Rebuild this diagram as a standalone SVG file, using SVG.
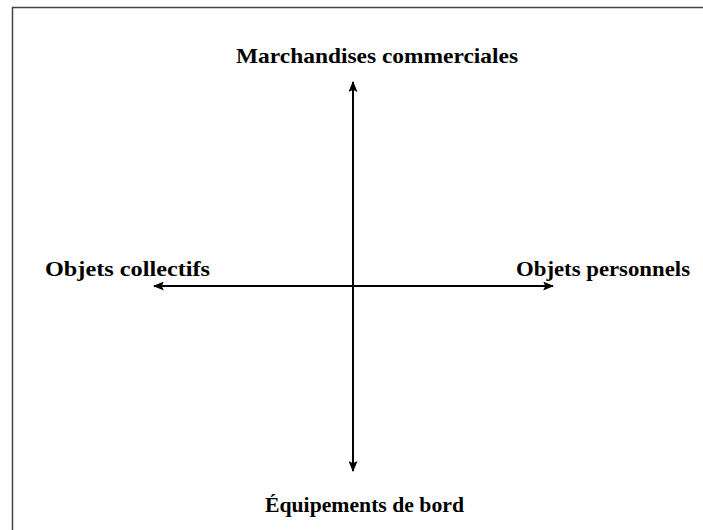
<svg xmlns="http://www.w3.org/2000/svg" width="703" height="530" viewBox="0 0 703 530">
<style>
text{font-family:"Liberation Serif","Times New Roman",serif;font-weight:bold;font-size:22px;fill:#000}
.ax{stroke:#000;stroke-width:2;fill:none}
</style>
<defs>
<marker id="ah" viewBox="0 0 10 10" refX="9" refY="5" markerWidth="11" markerHeight="9" markerUnits="userSpaceOnUse" orient="auto-start-reverse" preserveAspectRatio="none">
<path d="M0,0 L10,5 L0,10 L2,5 Z" fill="#000"/>
</marker>
</defs>
<rect width="703" height="530" fill="#fff"/>
<g id="frame"><path d="M12.5,530 V7.5 H703" stroke="#444" stroke-width="1.5" fill="none"/></g>
<g id="connectors">
<line class="ax" x1="353" y1="82" x2="353" y2="471" marker-start="url(#ah)" marker-end="url(#ah)"/>
<line class="ax" x1="154" y1="286" x2="553" y2="286" marker-start="url(#ah)" marker-end="url(#ah)"/>
</g>
<g id="n-top"><text x="236" y="63" textLength="282" lengthAdjust="spacingAndGlyphs">Marchandises commerciales</text></g>
<g id="n-left"><text x="45" y="276" textLength="165" lengthAdjust="spacingAndGlyphs">Objets collectifs</text></g>
<g id="n-right"><text x="516" y="276" textLength="174" lengthAdjust="spacingAndGlyphs">Objets personnels</text></g>
<g id="n-bottom"><text x="265" y="512" textLength="199" lengthAdjust="spacingAndGlyphs">Équipements de bord</text></g>
</svg>
